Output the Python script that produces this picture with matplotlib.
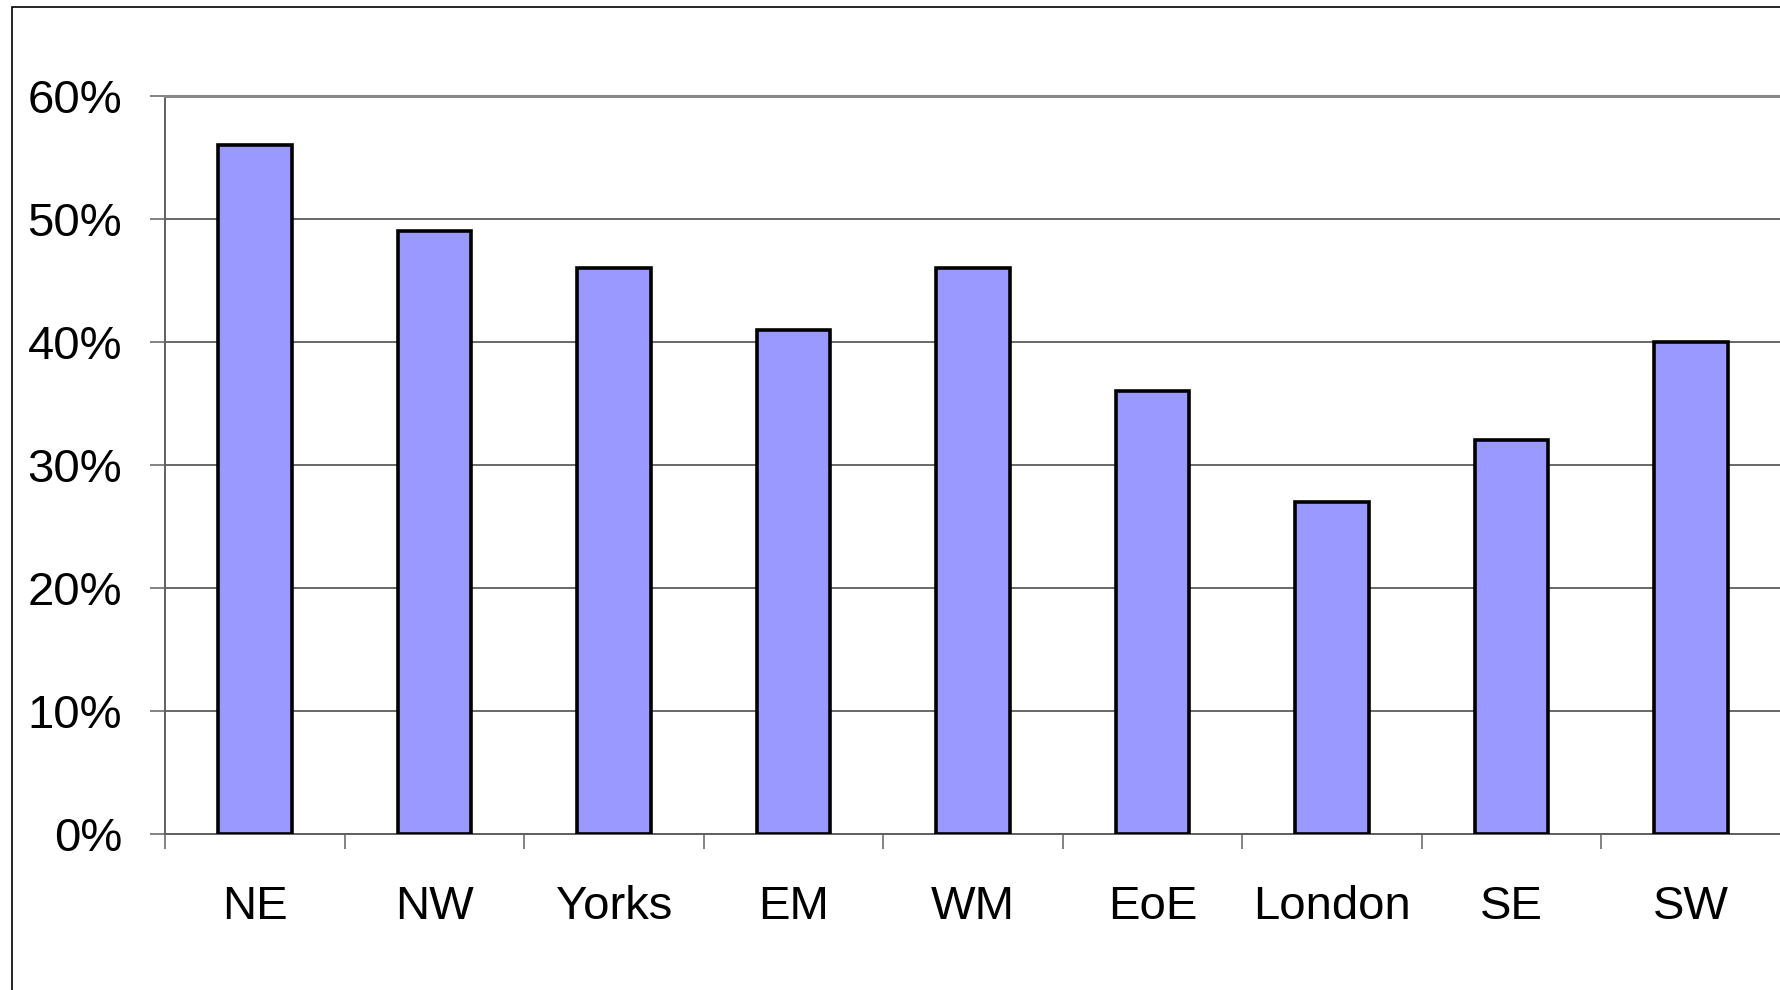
import matplotlib.pyplot as plt
import numpy as np
from matplotlib.patches import Rectangle

regions = ['NE', 'NW', 'Yorks', 'EM', 'WM', 'EoE', 'London', 'SE', 'SW']
shares = [56, 49, 46, 41, 46, 36, 27, 32, 40]
yticks = [0, 10, 20, 30, 40, 50, 60]

plt.rcParams['font.family'] = ['Liberation Sans', 'DejaVu Sans']

W, H = 1781, 990
fig = plt.figure(figsize=(W / 100, H / 100), dpi=100)
ax = fig.add_axes([165 / W, 1 - 834 / H, 1 - 165 / W, (834 - 96) / H])

# outer chart frame, runs off the right and bottom edges
fig.patches.append(Rectangle((12 / W, -0.1), 1.2, 1 - 7 / H + 0.1,
                             transform=fig.transFigure, fill=False,
                             edgecolor='black', linewidth=1.2, zorder=0))

x = np.arange(len(regions))
ax.set_axisbelow(True)
ax.yaxis.grid(True, color='#404040', linewidth=1.1)
ax.bar(x, shares, width=0.41, color='#9999FF', edgecolor='black', linewidth=2.6, zorder=3)

ax.set_xlim(-0.5, len(regions) - 0.5)
ax.set_ylim(0, 60)
ax.set_yticks(yticks)
ax.set_yticklabels([f'{v}%' for v in yticks])
ax.set_xticks(x)
ax.set_xticklabels(regions)
ax.set_xticks(np.arange(-0.5, len(regions), 1), minor=True)

ax.tick_params(axis='x', which='major', length=0, pad=37, labelsize=34)
ax.tick_params(axis='x', which='minor', length=11, width=1.1, color='#606060', direction='out')
ax.tick_params(axis='y', length=11, width=1.1, color='#606060', pad=20, labelsize=34)

ax.spines['right'].set_visible(False)
ax.spines['top'].set_color('#888888')
ax.spines['top'].set_linewidth(2.2)
for s in ['left', 'bottom']:
    ax.spines[s].set_color('#606060')
    ax.spines[s].set_linewidth(1.4)

fig.savefig('out.png', dpi=100)
